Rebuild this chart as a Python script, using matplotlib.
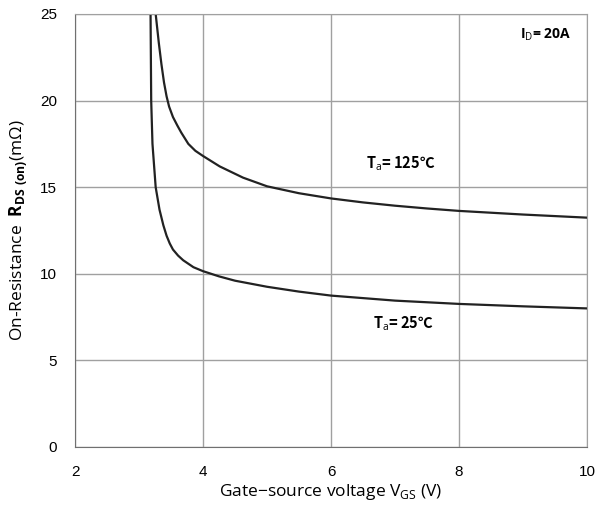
import numpy as np
import matplotlib
matplotlib.use('Agg')
import matplotlib.pyplot as plt

plt.rcParams['mathtext.fontset'] = 'custom'
plt.rcParams['mathtext.rm'] = 'Open Sans'
plt.rcParams['mathtext.bf'] = 'Open Sans:bold'

vgs_125 = [3.26, 3.31, 3.35, 3.39, 3.43, 3.47, 3.53, 3.6, 3.66, 3.77, 3.88, 4.0, 4.26, 4.625, 5.0, 5.5, 6.0, 6.5, 7.0, 7.5, 8.0, 9.0, 10.0]
rds_125 = [25.0, 23.3, 22.1, 21.05, 20.25, 19.65, 19.05, 18.55, 18.15, 17.5, 17.1, 16.8, 16.2, 15.55, 15.05, 14.65, 14.35, 14.12, 13.93, 13.77, 13.63, 13.42, 13.24]
vgs_25 = [3.18, 3.19, 3.21, 3.26, 3.32, 3.38, 3.43, 3.48, 3.53, 3.61, 3.69, 3.85, 4.0, 4.25, 4.5, 5.0, 5.5, 6.0, 7.0, 8.0, 9.0, 10.0]
rds_25 = [25.0, 20.0, 17.5, 15.0, 13.7, 12.8, 12.2, 11.75, 11.4, 11.05, 10.78, 10.38, 10.15, 9.85, 9.6, 9.25, 8.97, 8.74, 8.45, 8.26, 8.12, 8.0]
xticks = [2, 4, 6, 8, 10]
yticks = [0, 5, 10, 15, 20, 25]

fig = plt.figure(figsize=(6.06, 5.12), dpi=100)
ax = fig.add_axes([0.1238, 0.127, 0.845, 0.8457])

ax.plot(vgs_125, rds_125, color='#222222', lw=1.6)
ax.plot(vgs_25, rds_25, color='#222222', lw=1.6)

ax.set_xlim(2, 10)
ax.set_ylim(0, 25)
ax.set_xticks(xticks)
ax.set_yticks(yticks)
ax.grid(True, color='#a0a0a0', lw=1.0)
for s in ax.spines.values():
    s.set_color('#a0a0a0')
ax.spines['left'].set_color('#707070')
ax.spines['bottom'].set_color('#707070')
ax.tick_params(length=0, pad=13, labelsize=11)
for lab in ax.get_xticklabels() + ax.get_yticklabels():
    lab.set_family('Liberation Sans')

ax.set_xlabel(r'Gate$-$source voltage V$_{\rm GS}$ (V)', family='Open Sans', fontsize=12.5, labelpad=2)
ax.set_ylabel(r'On-Resistance  $\mathbf{R_{DS\ (on)}}$(mΩ)', family='Open Sans', fontsize=12.5, labelpad=8)

ax.text(9.75, 23.8, r'I$_{\rm D}$= 20A', family='Open Sans', fontweight='bold', fontsize=10, ha='right', va='center')
ax.text(6.55, 16.35, r'T$_{\rm a}$= 125℃', family=['Noto Sans CJK SC', 'DejaVu Sans'], fontweight='bold', fontsize=10.5, ha='left', va='center')
ax.text(6.65, 7.1, r'T$_{\rm a}$= 25℃', family=['Noto Sans CJK SC', 'DejaVu Sans'], fontweight='bold', fontsize=10.5, ha='left', va='center')

fig.savefig('out.png', dpi=100)
